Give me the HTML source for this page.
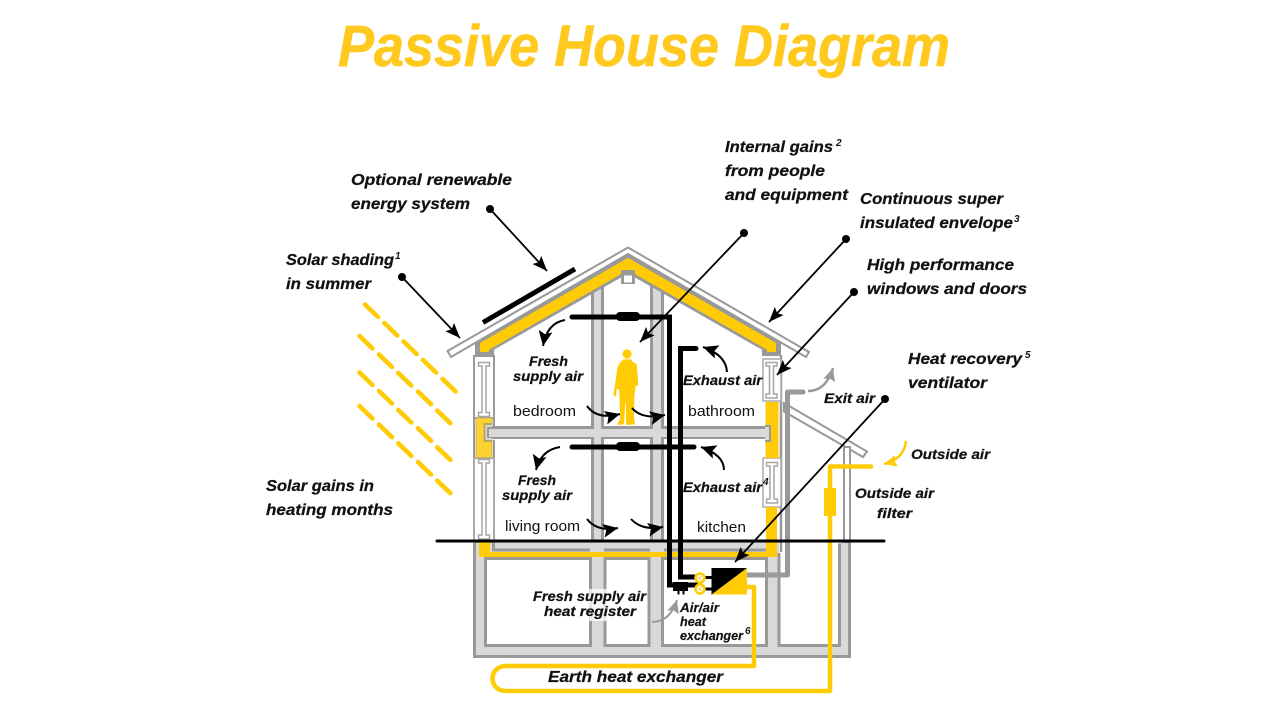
<!DOCTYPE html>
<html><head><meta charset="utf-8"><title>Passive House Diagram</title>
<style>
html,body{margin:0;padding:0;background:#fff;width:1280px;height:720px;overflow:hidden}
svg{display:block}
text{font-family:"Liberation Sans",sans-serif;fill:#111}
.b{font-weight:bold;font-style:italic;font-size:16px;stroke:#111;stroke-width:.25px}
.m{font-weight:bold;font-style:italic;font-size:14px;stroke:#111;stroke-width:.25px}
.s{font-weight:bold;font-style:italic;font-size:12.5px;stroke:#111;stroke-width:.2px}
.r{font-size:14.5px}
.u{font-weight:bold;font-style:italic;font-size:10px}
</style></head><body>
<svg width="1280" height="720" viewBox="0 0 1280 720" xmlns="http://www.w3.org/2000/svg">
<defs>
<marker id="ab" markerUnits="userSpaceOnUse" markerWidth="16" markerHeight="14" refX="15" refY="6" orient="auto"><path d="M0,0 L15,6 L0,12 L3,6Z" fill="#000"/></marker>
<marker id="ac" markerUnits="userSpaceOnUse" markerWidth="16" markerHeight="16" refX="15" refY="7" orient="auto"><path d="M0,0 L15,7 L0,14 L3,7Z" fill="#000"/></marker>
<marker id="ag" markerUnits="userSpaceOnUse" markerWidth="16" markerHeight="16" refX="13" refY="6" orient="auto"><path d="M0,0 L13,6 L0,12 L2,6Z" fill="#999"/></marker>
<marker id="ay" markerUnits="userSpaceOnUse" markerWidth="16" markerHeight="16" refX="13" refY="6" orient="auto"><path d="M0,0 L13,6 L0,12 L2,6Z" fill="#FFCB05"/></marker>
</defs>

<text x="338" y="66" font-size="58" font-weight="bold" font-style="italic" textLength="612" lengthAdjust="spacingAndGlyphs" style="fill:#FFC91F;stroke:#FFC91F;stroke-width:.6px">Passive House Diagram</text>

<!-- sun dashes -->
<g stroke="#FFCB05" stroke-width="4.6" stroke-linecap="round" fill="none">
<path d="M365,304.500l13,12.500M384.300,323l13,12.500M403.600,341.500l13,12.500M423,360l13,12.500M442.600,379l13,12.500"/>
<path d="M359.500,336l13,12.500M379,354.500l13,12.500M398.300,373l13,12.500M418,391.700l13,12.500M437.300,410.700l13,12.500"/>
<path d="M359.500,372.500l13,12.500M379,391l13,12.500M398.300,410l13,12.500M418,428.300l13,12.500M437.300,447.300l13,12.500"/>
<path d="M359.500,406l13,12.500M379,424.700l13,12.500M398.300,443.300l13,12.500M418,462l13,12.500M437.300,480.700l13,12.500"/>
</g>

<!-- basement + columns gray pass -->
<rect x="473" y="540" width="378" height="118" fill="#999"/>
<rect x="591" y="285" width="13" height="360" fill="#999"/>
<rect x="650" y="285" width="14" height="360" fill="#999"/>
<rect x="487" y="426" width="285" height="13" fill="#999"/>
<rect x="476" y="542" width="372" height="113" fill="#d9d9d9"/>
<rect x="594" y="285" width="7" height="360" fill="#d9d9d9"/>
<rect x="653" y="285" width="8" height="360" fill="#d9d9d9"/>
<rect x="489" y="429" width="280.500" height="8" fill="#d9d9d9"/>
<!-- basement cells -->
<g fill="#fff" stroke="#999" stroke-width="3">
<rect x="485.500" y="558.500" width="105" height="87"/>
<rect x="605" y="558.500" width="44" height="87"/>
<rect x="662.500" y="558.500" width="104" height="87"/>
</g>
<rect x="779" y="541" width="60" height="105" fill="#fff"/>
<path d="M779,553V645.500H839.500V543.500" fill="none" stroke="#999" stroke-width="3"/>
<rect x="851" y="530" width="6" height="12" fill="#fff"/>
<path d="M493.500,542V550H590M604,550H650M664,550H768" stroke="#999" stroke-width="3" fill="none"/>

<!-- left wall -->
<rect x="474" y="356" width="20" height="62" fill="#fff" stroke="#999" stroke-width="2"/>
<rect x="474" y="458" width="20" height="84" fill="#fff" stroke="#aaa" stroke-width="2"/>
<rect x="476" y="418" width="16" height="39.500" fill="#FFD233" stroke="#c8b15a" stroke-width="1"/>
<line x1="474" y1="418" x2="474" y2="458" stroke="#999" stroke-width="2"/>
<line x1="494" y1="418" x2="494" y2="426" stroke="#999" stroke-width="2"/>
<line x1="494" y1="440" x2="494" y2="458" stroke="#999" stroke-width="2"/>
<path d="M492,424H484.500V441H492" fill="#d9d9d9" stroke="#b9a85c" stroke-width="2"/>
<rect x="487" y="427" width="6" height="11" fill="#999"/>
<rect x="489" y="429" width="6" height="8" fill="#d9d9d9"/>
<!-- right wall -->
<line x1="781" y1="355" x2="781" y2="552" stroke="#999" stroke-width="2.500"/>
<rect x="763" y="359" width="18" height="42" fill="#fff" stroke="#aaa" stroke-width="1.500"/>
<rect x="763" y="458" width="18" height="49" fill="#fff" stroke="#aaa" stroke-width="1.500"/>
<rect x="765.500" y="402" width="13" height="56" fill="#FFCB05"/>
<path d="M765,426H770V441H765" fill="#d9d9d9" stroke="#999" stroke-width="2"/>

<!-- I sections -->
<g fill="#fff" stroke="#a5a5a5" stroke-width="1.500">
<path d="M478.500,362.500H489.500V366H486V412.500H489.500V416.500H478.500V412.500H482V366H478.500Z"/>
<path d="M478.500,459.500H489.500V463H486V535H489.500V539H478.500V535H482V463H478.500Z"/>
<path d="M766,362.500H777V366H773.500V394H777V398H766V394H769.500V366H766Z"/>
<path d="M766.500,462.500H777.500V466H774V499H777.500V503H766.500V499H770V466H766.500Z"/>
</g>

<!-- floor yellow -->
<path d="M479,541H490V552H766V507H777V557H479Z" fill="#FFCB05"/>

<!-- roof insulation -->
<path d="M475,342L628,253L781,342V356H762V349.700L628,273.500L494,349.700V356H475Z" fill="#999"/>
<path d="M480,343L628,258L776,343V352H767V349.700L628,270L489,349.700V352H480Z" fill="#FFCB05"/>
<!-- roof cap -->
<path d="M447.500,351L628,247.500L809,352L806,357L628,254L451,357Z" fill="#fff" stroke="#999" stroke-width="2"/>
<path d="M475,342L628,253L781,342L781,346L628,257.500L475,346Z" fill="#999"/>
<path d="M480,343L628,258L776,343V352H767V349.700L628,270L489,349.700V352H480Z" fill="#FFCB05"/>
<rect x="621" y="270" width="14" height="14" fill="#999"/>
<rect x="624" y="275.500" width="8" height="7" fill="#fff"/>

<!-- solar panel -->
<line x1="483" y1="322.500" x2="575" y2="269" stroke="#000" stroke-width="5"/>

<!-- small roof and column -->
<path d="M784,403L867,451.500L863,457L784,411.500Z" fill="#fff" stroke="#999" stroke-width="2"/>
<rect x="844" y="447" width="6" height="95" fill="#fff" stroke="#999" stroke-width="2"/>

<!-- ducts gray -->
<path d="M748,575H787.500V392H803" fill="none" stroke="#999" stroke-width="5" stroke-linecap="round" stroke-linejoin="round"/>

<!-- earth pipe yellow -->
<path d="M747,587H754V666H506C488,666 488,691 506,691H830V466.500H871" fill="none" stroke="#FFCB05" stroke-width="4.500" stroke-linecap="round" stroke-linejoin="round"/>
<rect x="824" y="488" width="12" height="28" fill="#FFCB05"/>

<!-- black ducts -->
<g fill="none" stroke="#000" stroke-width="5" stroke-linecap="round">
<path d="M572,317H669.500V585H696"/>
<path d="M696,577H680.500V348.500H696"/>
<path d="M572,447H694"/>
</g>
<rect x="616" y="312" width="24" height="9" rx="4" fill="#000"/>
<rect x="616" y="442" width="24" height="9" rx="4" fill="#000"/>
<path d="M673,582H688V591H684.500V594.500H682.500V591H679.500V594.500H677.500V591H673Z" fill="#000"/>

<!-- heat exchanger -->
<path d="M711.500,568H747L711.500,595Z" fill="#000"/>
<path d="M747,568V594.500H711.500Z" fill="#FFCB05"/>
<rect x="704" y="576" width="8" height="3" fill="#000"/>
<rect x="704" y="587.500" width="8" height="3" fill="#000"/>
<circle cx="700" cy="578" r="4.500" fill="#fff" stroke="#FFCB05" stroke-width="2.500"/>
<circle cx="700" cy="589" r="4.500" fill="#fff" stroke="#FFCB05" stroke-width="2.500"/>
<path d="M702,576L698.500,578L702,580M702,587L698.500,589L702,591" fill="none" stroke="#FFCB05" stroke-width="1"/>

<!-- person -->
<circle cx="627" cy="354" r="4.600" fill="#FFCB05"/>
<path transform="translate(600,340) scale(.3333)" fill="#FFCB05" d="M70,58L94,58L96,64L110,72L115,135L107,138L103,170L102,230L105,253L78,255L78,190L76,190L72,253L52,255L60,235L58,150L50,145L48,170L40,165L44,140L52,85L58,70Z"/>

<!-- curved arrows -->
<g fill="none" stroke="#000" stroke-width="2">
<path d="M565,320Q547,323 543,346" marker-end="url(#ac)"/>
<path d="M560,447Q541,450 536,470" marker-end="url(#ac)"/>
<path d="M587,406Q597,420 620,414" marker-end="url(#ac)"/>
<path d="M632,408Q642,420 665,415" marker-end="url(#ac)"/>
<path d="M587,519Q597,532 618,528" marker-end="url(#ac)"/>
<path d="M631,519Q642,531 663,527" marker-end="url(#ac)"/>
<path d="M727,372Q726,355 703,347" marker-end="url(#ac)"/>
<path d="M724,470Q724,455 701,447" marker-end="url(#ac)"/>
</g>
<path d="M808,391Q826,391 833,368" fill="none" stroke="#999" stroke-width="2.500" marker-end="url(#ag)"/>
<path d="M652,622Q670,622 677,600" fill="none" stroke="#999" stroke-width="2" marker-end="url(#ag)"/>
<path d="M906,441Q904,459 884,464" fill="none" stroke="#FFCB05" stroke-width="2.500" marker-end="url(#ay)"/>

<!-- ground line -->
<line x1="437" y1="541" x2="884" y2="541" stroke="#000" stroke-width="3" stroke-linecap="round"/>

<!-- leaders -->
<g stroke="#000" stroke-width="1.800" fill="none">
<path d="M490,209L547,271" marker-end="url(#ab)"/>
<path d="M402,277L460,338" marker-end="url(#ab)"/>
<path d="M744,233L640,342" marker-end="url(#ab)"/>
<path d="M846,239L769,322" marker-end="url(#ab)"/>
<path d="M854,292L777,375" marker-end="url(#ab)"/>
<path d="M885,399L735,562" marker-end="url(#ab)"/>
</g>
<g fill="#000">
<circle cx="490" cy="209" r="4"/><circle cx="402" cy="277" r="4"/><circle cx="744" cy="233" r="4"/>
<circle cx="846" cy="239" r="4"/><circle cx="854" cy="292" r="4"/><circle cx="885" cy="399" r="4"/>
</g>

<!-- labels -->
<text class="b" x="351" y="185" textLength="161" lengthAdjust="spacingAndGlyphs">Optional renewable</text>
<text class="b" x="351" y="209" textLength="119" lengthAdjust="spacingAndGlyphs">energy system</text>
<text class="b" x="286" y="265" textLength="108" lengthAdjust="spacingAndGlyphs">Solar shading</text><text class="u" x="395" y="259">1</text>
<text class="b" x="286" y="289" textLength="85" lengthAdjust="spacingAndGlyphs">in summer</text>
<text class="b" x="266" y="491" textLength="108" lengthAdjust="spacingAndGlyphs">Solar gains in</text>
<text class="b" x="266" y="515" textLength="127" lengthAdjust="spacingAndGlyphs">heating months</text>
<text class="b" x="725" y="152" textLength="108" lengthAdjust="spacingAndGlyphs">Internal gains</text><text class="u" x="836" y="146">2</text>
<text class="b" x="725" y="176" textLength="100" lengthAdjust="spacingAndGlyphs">from people</text>
<text class="b" x="725" y="200" textLength="123" lengthAdjust="spacingAndGlyphs">and equipment</text>
<text class="b" x="860" y="204" textLength="143" lengthAdjust="spacingAndGlyphs">Continuous super</text>
<text class="b" x="860" y="228" textLength="153" lengthAdjust="spacingAndGlyphs">insulated envelope</text><text class="u" x="1014" y="222">3</text>
<text class="b" x="867" y="270" textLength="147" lengthAdjust="spacingAndGlyphs">High performance</text>
<text class="b" x="867" y="294" textLength="160" lengthAdjust="spacingAndGlyphs">windows and doors</text>
<text class="b" x="908" y="364" textLength="114" lengthAdjust="spacingAndGlyphs">Heat recovery</text><text class="u" x="1025" y="358">5</text>
<text class="b" x="908" y="388" textLength="79" lengthAdjust="spacingAndGlyphs">ventilator</text>
<text class="m" x="824" y="403" textLength="51" lengthAdjust="spacingAndGlyphs">Exit air</text>
<text class="m" x="911" y="459" textLength="79" lengthAdjust="spacingAndGlyphs">Outside air</text>
<text class="m" x="855" y="498" textLength="79" lengthAdjust="spacingAndGlyphs">Outside air</text>
<text class="m" x="877" y="518" textLength="35" lengthAdjust="spacingAndGlyphs">filter</text>
<text class="m" x="529" y="366" textLength="39" lengthAdjust="spacingAndGlyphs">Fresh</text>
<text class="m" x="513" y="381" textLength="70" lengthAdjust="spacingAndGlyphs">supply air</text>
<text class="r" x="513" y="416" textLength="63" lengthAdjust="spacingAndGlyphs">bedroom</text>
<text class="m" x="683" y="385" textLength="79" lengthAdjust="spacingAndGlyphs">Exhaust air</text>
<text class="r" x="688" y="416" textLength="67" lengthAdjust="spacingAndGlyphs">bathroom</text>
<text class="m" x="518" y="485" textLength="38" lengthAdjust="spacingAndGlyphs">Fresh</text>
<text class="m" x="502" y="500" textLength="70" lengthAdjust="spacingAndGlyphs">supply air</text>
<text class="r" x="505" y="531" textLength="75" lengthAdjust="spacingAndGlyphs">living room</text>
<text class="m" x="683" y="492" textLength="79" lengthAdjust="spacingAndGlyphs">Exhaust air</text><text class="u" x="763" y="485">4</text>
<text class="r" x="697" y="532" textLength="49" lengthAdjust="spacingAndGlyphs">kitchen</text>
<rect x="587" y="589" width="22" height="32" fill="#fff" opacity=".75"/>
<text class="m" x="533" y="601" textLength="113" lengthAdjust="spacingAndGlyphs">Fresh supply air</text>
<text class="m" x="544" y="616" textLength="92" lengthAdjust="spacingAndGlyphs">heat register</text>
<text class="s" x="680" y="612" textLength="39" lengthAdjust="spacingAndGlyphs">Air/air</text>
<text class="s" x="680" y="626" textLength="26" lengthAdjust="spacingAndGlyphs">heat</text>
<text class="s" x="680" y="640" textLength="63" lengthAdjust="spacingAndGlyphs">exchanger</text><text class="u" x="745" y="634">6</text>
<text class="b" x="548" y="682" textLength="175" lengthAdjust="spacingAndGlyphs">Earth heat exchanger</text>
</svg>
</body></html>
